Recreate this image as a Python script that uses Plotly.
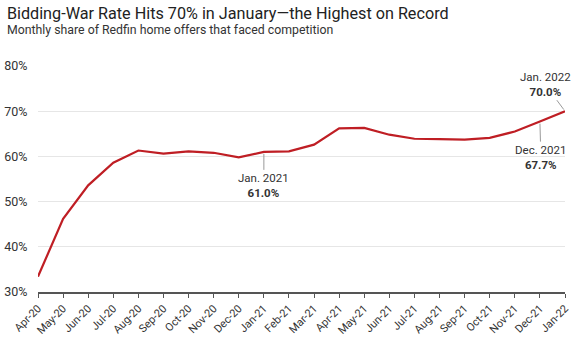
import plotly.graph_objects as go

months = ["Apr-20","May-20","Jun-20","Jul-20","Aug-20","Sep-20","Oct-20","Nov-20","Dec-20",
          "Jan-21","Feb-21","Mar-21","Apr-21","May-21","Jun-21","Jul-21","Aug-21","Sep-21",
          "Oct-21","Nov-21","Dec-21","Jan-22"]
share = [33.4, 46.2, 53.6, 58.6, 61.3, 60.6, 61.1, 60.8, 59.8,
         61.0, 61.1, 62.6, 66.2, 66.3, 64.8, 63.9, 63.8, 63.7,
         64.1, 65.5, 67.7, 70.0]
y_ticks = [30, 40, 50, 60, 70, 80]

callouts = [("Jan-21", "Jan. 2021", 0, 34), ("Jan-22", "Jan. 2022", -20, -27), ("Dec-21", "Dec. 2021", 1, 36)]

FONT = "Roboto, Liberation Sans, sans-serif"

fig = go.Figure()
fig.add_trace(go.Scatter(x=months, y=share, mode="lines",
                         line=dict(color="#bf1e24", width=2.2), hoverinfo="skip"))

for m, label, ax, ay in callouts:
    v = share[months.index(m)]
    fig.add_annotation(x=m, y=v, xref="x", yref="y",
                       text=f"{label}<br><b>{v:.1f}%</b>",
                       showarrow=True, arrowhead=0, arrowwidth=1, arrowcolor="#9a9a9a",
                       ax=ax, ay=ay, standoff=2, startstandoff=0,
                       font=dict(family=FONT, size=11.5, color="#333333"),
                       align="center")

fig.add_annotation(text="Monthly share of Redfin home offers that faced competition",
                   xref="paper", yref="paper", x=(5 - 38) / 527, y=1.0 + 36 / 226,
                   xanchor="left", yanchor="middle", showarrow=False,
                   font=dict(family=FONT, size=12.3, color="#333333"))

fig.update_layout(
    width=576, height=337,
    margin=dict(l=38, r=11, t=66, b=45),
    paper_bgcolor="white", plot_bgcolor="white",
    showlegend=False,
    title=dict(text="Bidding-War Rate Hits 70% in January\u2014the Highest on Record",
               x=0.012, xanchor="left", yref="container", y=1 - 13 / 337, yanchor="middle",
               font=dict(family=FONT, size=16.2, color="#222222")),
    xaxis=dict(type="category", range=[0, len(months) - 1], tickangle=-45, automargin=False,
               showgrid=False, showline=True, linecolor="#555555", linewidth=1.5,
               ticks="outside", ticklen=4, tickcolor="#555555",
               tickfont=dict(family=FONT, size=11, color="#333333")),
    yaxis=dict(range=[30, 80], tickvals=y_ticks, ticktext=[f"{t}%" for t in y_ticks],
               automargin=False,
               showgrid=True, gridcolor="#e6e6e6", gridwidth=1.2, zeroline=False,
               tickfont=dict(family=FONT, size=12.5, color="#333333"),
               ticks="outside", ticklen=7, tickcolor="rgba(0,0,0,0)"),
)

fig.write_html("out.html")
